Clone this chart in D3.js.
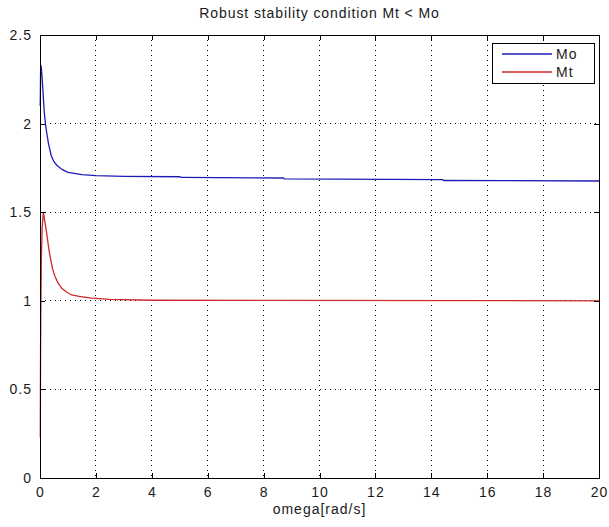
<!DOCTYPE html>
<html><head><meta charset="utf-8">
<script src="https://cdn.jsdelivr.net/npm/d3@7"></script>
<style>
html,body{margin:0;padding:0;background:#fff;}
text{font-family:"Liberation Sans",Arial,sans-serif;}
</style></head>
<body>
<svg id="c" width="609" height="527"></svg>
<script>
const title = "Robust stability condition Mt < Mo";
const xLabel = "omega[rad/s]";
const xTicks = [0,2,4,6,8,10,12,14,16,18,20];
const yTicks = [0,0.5,1,1.5,2,2.5];
const seriesNames = ["Mo","Mt"];
const seriesColors = ["#1c1cb4","#cc2a2a"];

const omegaMo = [0.005,0.01,0.02,0.03,0.05,0.08,0.1,0.15,0.2,0.25,0.3,0.4,0.5,0.6,0.8,1.0,1.5,2,3,5,5.05,8.7,8.75,14.4,14.45,20];
const valMo   = [2.10,2.12,2.28,2.33,2.31,2.25,2.20,2.07,1.99,1.94,1.89,1.82,1.785,1.765,1.74,1.725,1.712,1.706,1.702,1.700,1.696,1.693,1.688,1.684,1.679,1.676];

const omegaMt = [0.01,0.015,0.02,0.03,0.05,0.08,0.12,0.15,0.2,0.24,0.3,0.36,0.45,0.54,0.65,0.78,0.95,1.13,1.4,1.85,2.5,4,20];
const valMt   = [0.23,0.50,0.72,0.95,1.25,1.42,1.50,1.47,1.42,1.38,1.31,1.25,1.18,1.136,1.10,1.07,1.05,1.033,1.025,1.015,1.008,1.003,1.0];

const svg = d3.select("#c");
const L=40, R=599, T=35, B=478;
const x = d3.scaleLinear().domain([0,20]).range([L,R]);
const y = d3.scaleLinear().domain([0,2.5]).range([B,T]);

svg.append("rect").attr("x",L).attr("y",T).attr("width",R-L).attr("height",B-T).attr("fill","#fff");

// grid
const g = svg.append("g");
g.selectAll(".gx").data(xTicks.slice(1,-1)).enter().append("line")
  .attr("x1",d=>x(d)).attr("x2",d=>x(d)).attr("y1",T).attr("y2",B)
  .attr("stroke","#000").attr("stroke-width",1).attr("stroke-dasharray","1,4").attr("shape-rendering","crispEdges");
g.selectAll(".gy").data(yTicks.slice(1,-1)).enter().append("line")
  .attr("y1",d=>y(d)).attr("y2",d=>y(d)).attr("x1",L).attr("x2",R)
  .attr("stroke","#000").attr("stroke-width",1).attr("stroke-dasharray","1,4").attr("shape-rendering","crispEdges");

// lines
const line = d3.line().x(d=>x(d[0])).y(d=>y(d[1]));
const moData = omegaMo.map((w,i)=>[w,valMo[i]]);
const mtData = omegaMt.map((w,i)=>[w,valMt[i]]);
svg.append("path").attr("d",line(moData)).attr("fill","none").attr("stroke",seriesColors[0]).attr("stroke-width",1.3);
svg.append("path").attr("d",line(mtData)).attr("fill","none").attr("stroke",seriesColors[1]).attr("stroke-width",1.3);

// axes
const fontStyle = s => s.attr("font-size","14px").attr("letter-spacing","1px").attr("fill","#1a1a1a");
const xa = svg.append("g").attr("transform",`translate(0,${B})`)
  .call(d3.axisBottom(x).tickValues(xTicks).tickSize(-5).tickPadding(9).tickFormat(d3.format("d")));
const xt = svg.append("g").attr("transform",`translate(0,${T})`)
  .call(d3.axisTop(x).tickValues(xTicks).tickSize(-5).tickFormat(""));
const ya = svg.append("g").attr("transform",`translate(${L},0)`)
  .call(d3.axisLeft(y).tickValues(yTicks).tickSize(-5).tickPadding(8).tickFormat(d=>d3.format("")(d)));
const yr = svg.append("g").attr("transform",`translate(${R},0)`)
  .call(d3.axisRight(y).tickValues(yTicks).tickSize(-5).tickFormat(""));
[xa,xt,ya,yr].forEach(a=>{
  a.select(".domain").remove();
  a.selectAll("line").attr("stroke","#000").attr("shape-rendering","crispEdges");
  a.selectAll("text").call(fontStyle);
});
svg.append("rect").attr("x",L).attr("y",T).attr("width",R-L).attr("height",B-T)
  .attr("fill","none").attr("stroke","#000").attr("stroke-width",1).attr("shape-rendering","crispEdges");

// title & label
svg.append("text").attr("x",(L+R)/2).attr("y",18).attr("text-anchor","middle").text(title).call(fontStyle).attr("letter-spacing","0.9px");
svg.append("text").attr("x",(L+R)/2).attr("y",514).attr("text-anchor","middle").text(xLabel).call(fontStyle);

// legend
const lg = svg.append("g");
lg.append("rect").attr("x",492).attr("y",43).attr("width",102).attr("height",40)
  .attr("fill","#fff").attr("stroke","#000").attr("shape-rendering","crispEdges");
seriesNames.forEach((n,i)=>{
  const yy = 54 + i*18;
  lg.append("line").attr("x1",502).attr("x2",552).attr("y1",yy).attr("y2",yy).attr("stroke",seriesColors[i]).attr("stroke-width",1.3);
  lg.append("text").attr("x",556).attr("y",yy+5).text(n).call(fontStyle);
});
</script>
</body></html>
